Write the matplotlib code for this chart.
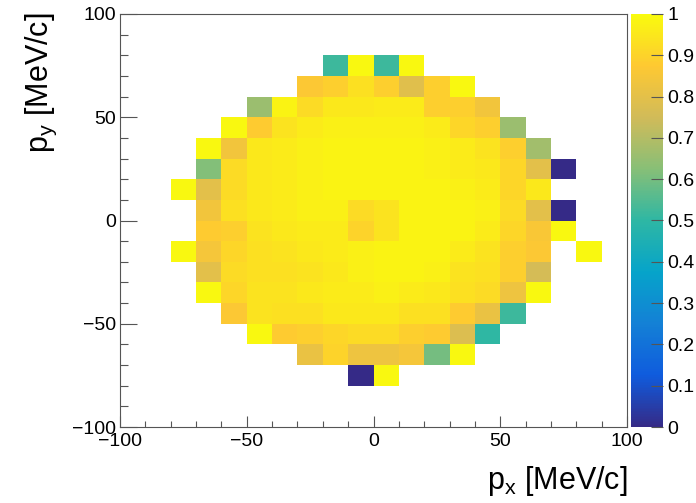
import numpy as np
import matplotlib
matplotlib.use("Agg")
import matplotlib.pyplot as plt
from matplotlib.colors import LinearSegmentedColormap

plt.rcParams['font.family'] = ['Liberation Sans', 'DejaVu Sans']
plt.rcParams['mathtext.fontset'] = 'custom'
plt.rcParams['mathtext.rm'] = 'Liberation Sans'
plt.rcParams['mathtext.it'] = 'Liberation Sans:italic'

# bin edges (10 MeV/c bins)
x_edges = np.arange(-100, 101, 10)
y_edges = np.arange(-100, 101, 10)

# columns px = -80 .. 80 (lower edges), rows py = 70 .. -80 (lower edges, top to bottom)
col_lo = list(range(-80, 90, 10))
row_lo = list(range(70, -90, -10))
n = np.nan
eff = [
    # -80  -70   -60   -50   -40   -30   -20   -10    0     10    20    30    40    50    60    70   80
    [n,    n,    n,    n,    n,    n,    0.52, 0.99, 0.52, 0.99, n,    n,    n,    n,    n,    n,   n],
    [n,    n,    n,    n,    n,    0.87, 0.89, 0.93, 0.89, 0.79, 0.89, 0.99, n,    n,    n,    n,   n],
    [n,    n,    n,    0.66, 0.98, 0.92, 0.95, 0.95, 0.96, 0.96, 0.89, 0.89, 0.84, n,    n,    n,   n],
    [n,    n,    0.99, 0.88, 0.94, 0.96, 0.97, 0.97, 0.97, 0.97, 0.96, 0.91, 0.89, 0.66, n,    n,   n],
    [n,    0.99, 0.84, 0.95, 0.96, 0.97, 0.98, 0.98, 0.98, 0.98, 0.97, 0.96, 0.94, 0.89, 0.67, n,   n],
    [n,    0.62, 0.92, 0.95, 0.96, 0.97, 0.98, 0.98, 0.98, 0.98, 0.97, 0.96, 0.95, 0.91, 0.80, 0.0, n],
    [0.99, 0.80, 0.92, 0.95, 0.96, 0.97, 0.98, 0.98, 0.98, 0.98, 0.98, 0.97, 0.96, 0.91, 0.95, n,   n],
    [n,    0.84, 0.93, 0.95, 0.96, 0.97, 0.97, 0.92, 0.94, 0.98, 0.98, 0.98, 0.97, 0.92, 0.80, 0.0, n],
    [n,    0.88, 0.89, 0.94, 0.95, 0.96, 0.96, 0.90, 0.94, 0.98, 0.98, 0.98, 0.96, 0.91, 0.86, 0.99, n],
    [0.99, 0.85, 0.91, 0.93, 0.94, 0.95, 0.96, 0.97, 0.98, 0.98, 0.98, 0.96, 0.94, 0.89, 0.87, n,   0.99],
    [n,    0.80, 0.92, 0.93, 0.93, 0.94, 0.95, 0.97, 0.98, 0.98, 0.97, 0.94, 0.93, 0.89, 0.76, n,   n],
    [n,    0.99, 0.91, 0.94, 0.94, 0.95, 0.96, 0.96, 0.97, 0.96, 0.95, 0.93, 0.92, 0.83, 0.99, n,   n],
    [n,    n,    0.87, 0.94, 0.93, 0.93, 0.95, 0.95, 0.95, 0.93, 0.93, 0.88, 0.82, 0.52, n,    n,   n],
    [n,    n,    n,    0.99, 0.88, 0.89, 0.91, 0.92, 0.92, 0.89, 0.88, 0.78, 0.50, n,    n,    n,   n],
    [n,    n,    n,    n,    n,    0.82, 0.90, 0.83, 0.83, 0.85, 0.60, 0.99, n,    n,    n,    n,   n],
    [n,    n,    n,    n,    n,    n,    n,    0.0,  0.99, n,    n,    n,    n,    n,    n,    n,   n],
]

# ROOT kBird palette
stops = [0.0, 0.125, 0.25, 0.375, 0.5, 0.625, 0.75, 0.875, 1.0]
red = [0.2082, 0.0592, 0.0780, 0.0232, 0.1802, 0.5301, 0.8186, 0.9956, 0.9764]
green = [0.1664, 0.3599, 0.5041, 0.6419, 0.7178, 0.7492, 0.7328, 0.7862, 0.9832]
blue = [0.5293, 0.8684, 0.8385, 0.7914, 0.6425, 0.4662, 0.3499, 0.1968, 0.0539]
bird = LinearSegmentedColormap.from_list(
    "bird", [(s, (r, g, b)) for s, r, g, b in zip(stops, red, green, blue)])

# fill the full 20x20 grid
grid = np.full((len(y_edges) - 1, len(x_edges) - 1), np.nan)
for ylo, row in zip(row_lo, eff):
    for xlo, v in zip(col_lo, row):
        grid[(ylo + 100) // 10, (xlo + 100) // 10] = v
grid = np.ma.masked_invalid(grid)

fig = plt.figure(figsize=(6.96, 5.03), dpi=100)
ax = fig.add_axes([120/696, 76/503, 507/696, 413/503])
cax = fig.add_axes([631/696, 76/503, 32/696, 413/503])

mesh = ax.pcolormesh(x_edges, y_edges, grid, cmap=bird, vmin=0, vmax=1)
ax.set_xlim(-100, 100)
ax.set_ylim(-100, 100)

for sp in ax.spines.values():
    sp.set_color('#555555')
    sp.set_linewidth(0.8)

ax.set_xticks([-100, -50, 0, 50, 100])
ax.set_yticks([-100, -50, 0, 50, 100])
ax.set_xticks(np.arange(-100, 101, 10), minor=True)
ax.set_yticks(np.arange(-100, 101, 10), minor=True)
ax.tick_params(axis='x', which='major', direction='in', length=8, width=0.8,
               color='#555555', labelsize=14, pad=4)
ax.tick_params(axis='x', which='minor', direction='in', length=4, width=0.8,
               color='#555555')
ax.tick_params(axis='y', which='major', direction='in', length=12, width=0.8,
               color='#555555', labelsize=14, pad=3)
ax.tick_params(axis='y', which='minor', direction='in', length=6, width=0.8,
               color='#555555')
ax.set_xticklabels(['\u2212100', '\u221250', '0', '50', '100'])
ax.set_yticklabels(['\u2212100', '\u221250', '0', '50', '100'])

cb = fig.colorbar(mesh, cax=cax)
cb.outline.set_visible(False)
cb.set_ticks(np.round(np.arange(0, 1.01, 0.1), 1))
cb.set_ticklabels(['0', '0.1', '0.2', '0.3', '0.4', '0.5', '0.6', '0.7', '0.8', '0.9', '1'])
cax.tick_params(direction='in', length=9, width=0.8, color='#555555',
                labelsize=14, pad=3)

fig.text(628/696, 14/503, r'p$_{\mathregular{x}}$ [MeV/c]', ha='right', va='baseline',
         fontsize=22)
fig.text(48/696, 1 - 12/503, r'p$_{\mathregular{y}}$ [MeV/c]', ha='right', va='baseline',
         rotation=90, rotation_mode='anchor', fontsize=22)

fig.savefig('out.png', dpi=100)
